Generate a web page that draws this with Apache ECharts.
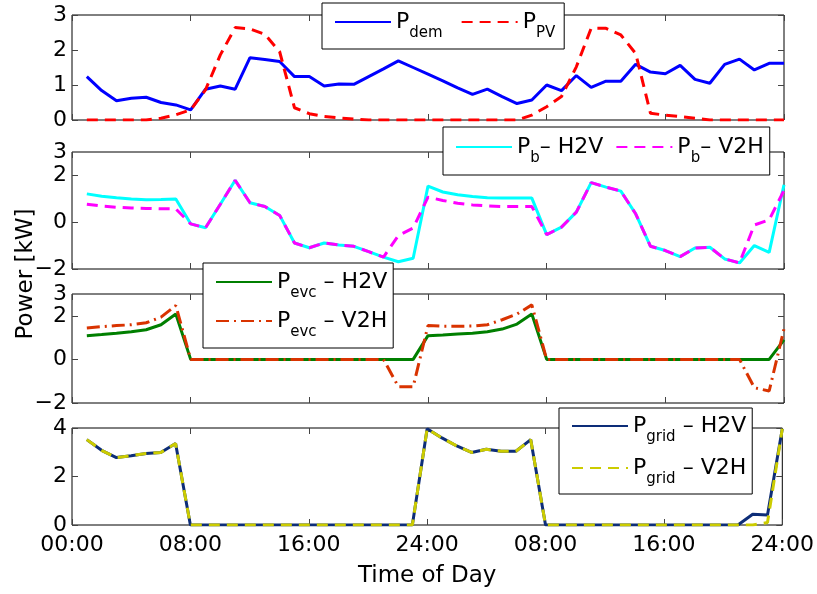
<!DOCTYPE html>
<html>
<head>
<meta charset="utf-8">
<script src="https://cdn.jsdelivr.net/npm/echarts@6/dist/echarts.min.js"></script>
<style>
  html, body { margin: 0; padding: 0; background: #fff; }
  #chart { width: 817px; height: 594px; }
</style>
</head>
<body>
<div id="chart"></div>
<script>
// hourly samples over two days
const hours = [1, 2, 3, 4, 5, 6, 7, 8, 9, 10, 11, 12, 13, 14, 15, 16, 17, 18, 19, 20, 21, 22, 23, 24,
  25, 26, 27, 28, 29, 30, 31, 32, 33, 34, 35, 36, 37, 38, 39, 40, 41, 42, 43, 44, 45, 46, 47, 48];
const xTicks = [0, 8, 16, 24, 32, 40, 48];
const xTickLabels = ["00:00", "08:00", "16:00", "24:00", "08:00", "16:00", "24:00"];

const pDem = [1.24, 0.84, 0.55, 0.62, 0.65, 0.5, 0.43, 0.29, 0.88, 0.97, 0.88, 1.78, 1.73, 1.67, 1.24, 1.24,
  0.97, 1.03, 1.02, 1.24, 1.46, 1.69, 1.5, 1.31, 1.12, 0.92, 0.73, 0.88, 0.67, 0.47, 0.57, 1.0,
  0.84, 1.27, 0.93, 1.11, 1.11, 1.59, 1.37, 1.32, 1.56, 1.16, 1.05, 1.59, 1.74, 1.43, 1.62, 1.62];
const pPV = [0, 0, 0, 0, 0, 0.05, 0.15, 0.29, 0.86, 1.86, 2.64, 2.6, 2.45, 1.95, 0.35, 0.18,
  0.1, 0.06, 0.03, 0, 0, 0, 0, 0, 0, 0, 0, 0, 0, 0, 0.14, 0.38,
  0.67, 1.52, 2.62, 2.62, 2.43, 1.9, 0.19, 0.14, 0.1, 0.05, 0, 0, 0, 0, 0, 0];

const pbH2V = [1.21, 1.11, 1.04, 0.99, 0.96, 0.97, 0.99, -0.07, -0.24, 0.77, 1.79, 0.83, 0.67, 0.29, -0.89, -1.09,
  -0.89, -0.97, -1.03, -1.26, -1.49, -1.69, -1.54, 1.54, 1.29, 1.17, 1.1, 1.04, 1.03, 1.03, 1.03, -0.53,
  -0.21, 0.43, 1.69, 1.5, 1.33, 0.36, -1.03, -1.21, -1.47, -1.1, -1.07, -1.57, -1.74, -1.0, -1.29, 1.6];
const pbV2H = [0.77, 0.69, 0.64, 0.61, 0.59, 0.57, 0.57, -0.07, -0.24, 0.77, 1.79, 0.83, 0.67, 0.29, -0.89, -1.09,
  -0.89, -0.97, -1.03, -1.26, -1.49, -0.57, -0.25, 1.07, 0.93, 0.81, 0.74, 0.7, 0.67, 0.67, 0.67, -0.53,
  -0.21, 0.43, 1.69, 1.5, 1.33, 0.36, -1.03, -1.21, -1.47, -1.1, -1.07, -1.57, -1.74, -0.12, 0.1, 1.36];

const pevcH2V = [1.09, 1.14, 1.2, 1.27, 1.36, 1.59, 2.08, 0, 0, 0, 0, 0, 0, 0, 0, 0,
  0, 0, 0, 0, 0, 0, 0, 1.09, 1.12, 1.17, 1.2, 1.27, 1.39, 1.62, 2.08, 0,
  0, 0, 0, 0, 0, 0, 0, 0, 0, 0, 0, 0, 0, 0, 0, 0.9];
const pevcV2H = [1.44, 1.5, 1.55, 1.59, 1.68, 1.94, 2.47, 0, 0, 0, 0, 0, 0, 0, 0, 0,
  0, 0, 0, 0, 0, -1.25, -1.25, 1.55, 1.52, 1.52, 1.53, 1.59, 1.82, 2.08, 2.5, 0,
  0, 0, 0, 0, 0, 0, 0, 0, 0, 0, 0, 0, 0, -1.3, -1.45, 1.4];

const pgridH2V = [3.52, 3.08, 2.78, 2.86, 2.95, 2.99, 3.36, 0, 0, 0, 0, 0, 0, 0, 0, 0,
  0, 0, 0, 0, 0, 0, 0, 3.97, 3.59, 3.26, 2.99, 3.12, 3.04, 3.04, 3.52, 0,
  0, 0, 0, 0, 0, 0, 0, 0, 0, 0, 0, 0, 0, 0.44, 0.41, 3.97];
const pgridV2H = [3.52, 3.08, 2.78, 2.86, 2.95, 2.99, 3.36, 0, 0, 0, 0, 0, 0, 0, 0, 0,
  0, 0, 0, 0, 0, 0, 0, 3.97, 3.59, 3.26, 2.99, 3.12, 3.04, 3.04, 3.52, 0,
  0, 0, 0, 0, 0, 0, 0, 0, 0, 0, 0, 0, 0, 0, 0.1, 3.97];

// per-panel y axis setup
const yMin = [0, -2, -2, 0];
const yMax = [3, 3, 3, 4];
const yLabels = [[0, 1, 2, 3], [-2, 0, 2, 3], [-2, 0, 2, 3], [0, 2, 4]];
const yTicks = [[0, 1, 2, 3], [-2, 0, 2], [-2, 0, 2], [0, 2, 4]];

const FONT = "DejaVu Sans";
const gridTops = [15, 152, 294, 428];
const gridHeights = [105, 117, 109, 97];

const chart = echarts.init(document.getElementById("chart"));

const tickStyle = { inside: true, length: 6, lineStyle: { color: "#444", width: 1 } };
const noLine = { show: false, onZero: false };

const xAxes = [];
const yAxes = [];
[0, 1, 2, 3].forEach((i) => {
  xAxes.push({
    type: "value", gridIndex: i, min: 0, max: 48, position: "bottom",
    axisLine: noLine, splitLine: { show: false },
    axisTick: { ...tickStyle, customValues: xTicks },
    axisLabel: {
      show: i === 3, customValues: xTicks, margin: 9,
      color: "#000", fontFamily: FONT, fontSize: 22,
      formatter: (v) => xTickLabels[xTicks.indexOf(v)],
    },
    name: i === 3 ? "Time of Day" : "",
    nameLocation: "middle", nameGap: 40,
    nameTextStyle: { color: "#000", fontFamily: FONT, fontSize: 23 },
  });
  yAxes.push({
    type: "value", gridIndex: i, min: yMin[i], max: yMax[i], position: "left",
    axisLine: noLine, splitLine: { show: false },
    axisTick: { ...tickStyle, customValues: yTicks[i] },
    axisLabel: {
      customValues: yLabels[i], margin: 5,
      color: "#000", fontFamily: FONT, fontSize: 22,
      formatter: (v) => String(v).replace("-", "\u2212"),
    },
  });
});
[0, 1, 2, 3].forEach((i) => {
  xAxes.push({
    type: "value", gridIndex: i, min: 0, max: 48, position: "top",
    axisLine: noLine, splitLine: { show: false },
    axisTick: { ...tickStyle, customValues: xTicks },
    axisLabel: { show: false },
  });
  yAxes.push({
    type: "value", gridIndex: i, min: yMin[i], max: yMax[i], position: "right",
    axisLine: noLine, splitLine: { show: false },
    axisTick: { ...tickStyle, customValues: yTicks[i] },
    axisLabel: { show: false },
  });
});

const lineSeries = (name, values, idx, color, type) => ({
  name, type: "line", xAxisIndex: idx, yAxisIndex: idx,
  symbol: "none", silent: true,
  data: hours.map((h, k) => [h, values[k]]),
  lineStyle: { color, width: 3, type: type || "solid" },
  itemStyle: { color },
});

// "P|sub|rest" -> rich text with subscript
const legendFormatter = (name) => {
  const parts = name.split("|");
  return "{p|" + parts[0] + "}{s|" + parts[1] + "}" + (parts[2] ? "{p|" + parts[2] + "}" : "");
};
const legendBase = {
  backgroundColor: "#fff", borderColor: "#000", borderWidth: 1, borderRadius: 0,
  itemWidth: 56, itemHeight: 14, selectedMode: false,
  itemStyle: { opacity: 0 },
  formatter: legendFormatter,
  textStyle: {
    color: "#000", fontFamily: FONT,
    rich: {
      p: { fontSize: 22, fontFamily: FONT, color: "#000" },
      s: { fontSize: 15, fontFamily: FONT, color: "#000", padding: [23, 0, 0, 0] },
    },
  },
};

const option = {
  animation: false,
  backgroundColor: "#fff",
  grid: gridTops.map((t, i) => ({
    left: 72, width: 712, top: t, height: gridHeights[i],
    show: true, borderColor: "#000", borderWidth: 1, backgroundColor: "transparent",
  })),
  xAxis: xAxes,
  yAxis: yAxes,
  legend: [
    { ...legendBase, data: ["P|dem|", "P|PV|"], left: 322, top: 3, orient: "horizontal",
      itemGap: 18, padding: [8, 9, 8, 12] },
    { ...legendBase, data: ["P|b|\u2013 H2V", "P|b|\u2013 V2H"], left: 443, top: 127, orient: "horizontal",
      itemGap: 12, padding: [9, 6, 9, 12] },
    { ...legendBase, data: ["P|evc| \u2013 H2V", "P|evc| \u2013 V2H"], left: 203, top: 263, orient: "vertical",
      itemGap: 9, padding: [8, 6, 8, 12] },
    { ...legendBase, data: ["P|grid| \u2013 H2V", "P|grid| \u2013 V2H"], left: 559, top: 408, orient: "vertical",
      itemGap: 12, padding: [7, 6, 7, 12] },
  ],
  graphic: [{
    type: "text", x: 26, y: 274, rotation: Math.PI / 2,
    style: { text: "Power [kW]", fontFamily: FONT, fontSize: 23, fill: "#000", align: "center", verticalAlign: "middle" },
  }],
  series: [
    lineSeries("P|dem|", pDem, 0, "#0000ff"),
    lineSeries("P|PV|", pPV, 0, "#ff0000", [11, 7]),
    lineSeries("P|b|\u2013 H2V", pbH2V, 1, "#00ffff"),
    lineSeries("P|b|\u2013 V2H", pbV2H, 1, "#ff00ff", [11, 7]),
    lineSeries("P|evc| \u2013 H2V", pevcH2V, 2, "#007f00"),
    lineSeries("P|evc| \u2013 V2H", pevcV2H, 2, "#d93300", [13, 5, 2, 5]),
    lineSeries("P|grid| \u2013 H2V", pgridH2V, 3, "#0d2d78"),
    lineSeries("P|grid| \u2013 V2H", pgridV2H, 3, "#cccc00", [11, 7]),
  ],
};

chart.setOption(option);
</script>
</body>
</html>
